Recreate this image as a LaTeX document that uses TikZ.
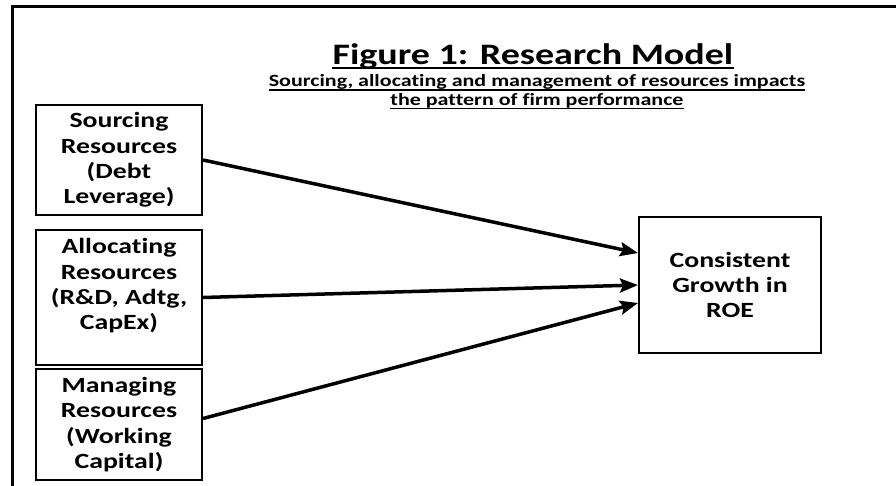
\documentclass[tikz,border=0pt]{standalone}
\usepackage{fontspec}
\setmainfont{Carlito}[FakeStretch=1.28,Ligatures=NoCommon]
\usetikzlibrary{arrows.meta}
\tikzset{
	resbox/.style={draw,line width=2pt,minimum width=166pt,inner sep=0pt,align=center,font=\bfseries\fontsize{21.7}{25.3}\selectfont},
	impact/.style={-{Stealth[length=18pt,width=14pt,inset=3pt]},line width=3.5pt},
	heading/.style={inner sep=0pt,anchor=base,font=\bfseries\fontsize{29.7}{34}\selectfont},
	subheading/.style={inner sep=0pt,anchor=base,font=\bfseries\fontsize{17.2}{19}\selectfont}
}
\begin{document}
\begin{tikzpicture}[x=1pt,y=-1pt]
	\useasboundingbox (0,0) rectangle (896,486) ;
	\fill[white] (0,0) rectangle (896,486) ;
	\draw[line width=3pt] (12,486) -- (12,7) -- (896,7) ;
	\node[heading] (title) at (533,65) {Figure 1: Research Model} ;
	\draw[line width=2pt] ([yshift=-3pt]title.base west) -- ([yshift=-3pt]title.base east) ;
	\node[subheading] (sub1) at (537,87) {Sourcing, allocating and management of resources impacts\ } ;
	\node[subheading] (sub2) at (537,105.5) {the pattern of firm performance} ;
	\draw[line width=1.5pt] ([yshift=-3pt]sub1.base west) -- ([yshift=-3pt]sub1.base east) ;
	\draw[line width=1.5pt] ([yshift=-3pt]sub2.base west) -- ([yshift=-3pt]sub2.base east) ;
	\node[resbox,minimum height=110pt] (sourcing) at (119,160) {Sourcing\\Resources\\(Debt\\Leverage)} ;
	\node[resbox,minimum height=135pt] (allocating) at (119,297.5) {\parbox[c][118pt][t]{160pt}{\centering Allocating\\Resources\\(R\&D, Adtg,\\CapEx)}} ;
	\node[resbox,minimum height=111pt] (managing) at (119,424.5) {Managing\\Resources\\(Working\\Capital)} ;
	\node[resbox,minimum width=182pt,minimum height=136pt] (roe) at (730,285) {Consistent\\Growth in\\ROE} ;
	\draw[impact] (sourcing.east) -- ([yshift=32pt]roe.west) ;
	\draw[impact] (allocating.east) -- (roe.west) ;
	\draw[impact] ([yshift=6pt]managing.east) -- ([yshift=-18pt]roe.west) ;
\end{tikzpicture}
\end{document}
